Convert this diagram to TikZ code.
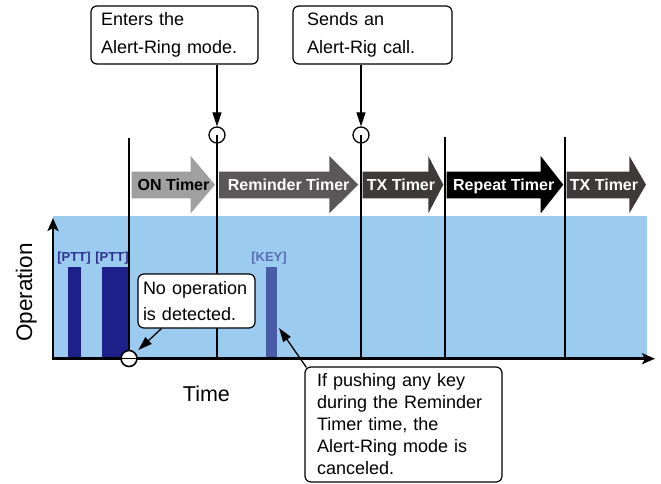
\documentclass[tikz,border=0pt]{standalone}
\usepackage{fontspec}
\setmainfont{Liberation Sans}
\usetikzlibrary{arrows.meta,calc}
\definecolor{bgblue}{HTML}{9BCBEE}
\definecolor{pttblue}{HTML}{1D2088}
\definecolor{keyblue}{HTML}{4A5CA8}
\definecolor{pttlabel}{HTML}{2E3192}
\definecolor{keylabel}{HTML}{5B6DB4}
\definecolor{ongray}{HTML}{A0A0A0}
\definecolor{remgray}{HTML}{595757}
\definecolor{txgray}{HTML}{3E3A39}
\newcommand\tmarrow[4]{\fill[#4] (#1,171.7) -- (#2,171.7) -- (#2,156) -- (#3,184.7) -- (#2,213.3) -- (#2,198.3) -- (#1,198.3) -- cycle;}
\begin{document}
\begin{tikzpicture}[x=1pt,y=-1pt,
  callout/.style={draw, rounded corners=6pt, line width=1.2pt, fill=white, align=left, inner ysep=0pt},
  vline/.style={line width=1.2pt},
  ring/.style={circle, draw, line width=1.3pt, fill=white, minimum size=16pt, inner sep=0pt},
  pointer/.style={line width=1.3pt, -{Triangle[length=14pt,width=9pt]}},
  axis/.style={line width=2.6pt, line join=miter, {Stealth[length=13pt,width=11pt,inset=3pt]}-{Stealth[length=13pt,width=11pt,inset=3pt]}},
  tlabel/.style={font=\fontsize{16}{16}\selectfont\bfseries, inner sep=0pt, anchor=base},
  blabel/.style={font=\fontsize{13}{13}\selectfont\bfseries, inner sep=0pt},
]
\useasboundingbox (0,0) rectangle (661,484);
% background
\fill[bgblue] (53,216) rectangle (647,358);
% bars
\fill[pttblue] (68,267) rectangle (81,358);
\fill[pttblue] (102,267) rectangle (129,358);
\fill[keyblue] (266,267) rectangle (277,358);
\node[blabel, text=pttlabel] (ptta) at (74,258) {[PTT]};
\node[blabel, text=pttlabel] (pttb) at (112,258) {[PTT]};
\node[blabel, text=keylabel] (key) at (269,258) {[KEY]};
% timer arrows
\tmarrow{131.7}{190.7}{215}{ongray}
\tmarrow{219}{329.3}{358.3}{remgray}
\tmarrow{362.7}{428.3}{443.3}{txgray}
\tmarrow{446.7}{540.7}{563.3}{black}
\tmarrow{566.7}{629.3}{646}{txgray}
\node[tlabel, text=black] (onl) at (173.5,190.3) {ON Timer};
\node[tlabel, text=white] (reml) at (288.7,190.3) {Reminder Timer};
\node[tlabel, text=white] (txa) at (401,190.3) {TX Timer};
\node[tlabel, text=white] (repl) at (503.7,190.3) {Repeat Timer};
\node[tlabel, text=white] (txb) at (604,190.3) {TX Timer};
% axes
\coordinate (o) at (53,358.7);
\coordinate (xe) at (655,358.7);
\coordinate (ye) at (53,218);
\draw[axis] (ye) -- (o) -- (xe);
% vertical lines
\coordinate (t0) at (129,138);
\coordinate (t3) at (445,137.5);
\coordinate (t4) at (565,137.5);
\draw[vline] (t0) -- (t0 |- o);
\draw[vline] (t3) -- (t3 |- o);
\draw[vline] (t4) -- (t4 |- o);
\node[ring] (c1) at (217,135) {};
\node[ring] (c2) at (361,135) {};
\draw[vline] (c1.center) -- (c1.center |- o);
\draw[vline] (c2.center) -- (c2.center |- o);
% bottom ring
\node[ring, line width=1.6pt] (c0) at (129,358.5) {};
\draw[line width=1.3pt] (c0.west) -- (c0.east);
% callouts
\node[callout, font=\fontsize{18}{27.6}\selectfont, text width=147pt, inner xsep=10pt, minimum height=58pt] (n1) at (174.5,35) {Enters the\\Alert-Ring mode.};
\node[callout, font=\fontsize{18}{27.6}\selectfont, text width=131pt, inner xsep=14pt, minimum height=58pt] (n2) at (372.5,35) {Sends an\\Alert-Rig call.};
\node[callout, font=\fontsize{18}{26}\selectfont, text width=107pt, inner xsep=5pt, minimum height=54pt] (n3) at (196.5,301) {No operation\\is detected.};
\node[callout, font=\fontsize{18}{22}\selectfont, text width=173pt, inner xsep=12pt, minimum height=115pt] (n4) at (403.5,424.5) {If pushing any key\\during the Reminder\\Timer time, the\\Alert-Ring mode is\\canceled.};
\draw[pointer] (n1.south -| c1.north) -- (c1.north);
\draw[pointer] (n2.south -| c2.north) -- (c2.north);
\coordinate (p3) at (138.3,350);
\coordinate (p4) at (279,328);
\draw[pointer] ($(n3.south west)+(24,0)$) -- (p3);
\draw[pointer] ($(n4.north west)+(2,1)$) -- (p4);
% axis labels
\node[font=\fontsize{22.5}{22.5}\selectfont, rotate=90, anchor=base, inner sep=0pt] (op) at (32,292.5) {Operation};
\node[font=\fontsize{21.5}{21.5}\selectfont, anchor=base, inner sep=0pt] (tm) at (206.4,401.7) {Time};
\end{tikzpicture}
\end{document}
